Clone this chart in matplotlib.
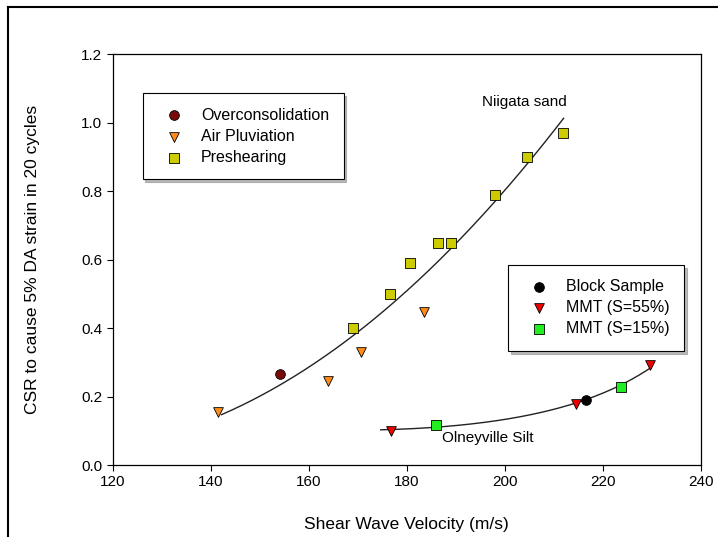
import numpy as np
import matplotlib
matplotlib.use("Agg")
import matplotlib.pyplot as plt
from matplotlib.lines import Line2D

plt.rcParams['font.family'] = ['Liberation Sans', 'DejaVu Sans']

# Niigata sand
oc_x = [154.1]
oc_y = [0.266]
ap_x = [141.4, 163.9, 170.6, 183.5]
ap_y = [0.155, 0.245, 0.33, 0.447]
ps_x = [169.0, 176.5, 180.6, 186.3, 189.1, 198.0, 204.5, 211.8]
ps_y = [0.40, 0.50, 0.59, 0.65, 0.65, 0.79, 0.90, 0.97]

# Olneyville silt
bs_x = [216.5]
bs_y = [0.19]
m55_x = [176.7, 214.5, 229.6]
m55_y = [0.10, 0.177, 0.292]
m15_x = [185.9, 223.7]
m15_y = [0.117, 0.228]

niigata_range = [142.2, 212.0]
silt_range = [174.7, 229.5]

fig = plt.figure(figsize=(7.18, 5.37), dpi=100)
ax = fig.add_axes([0.157, 0.134, 0.819, 0.765])

# trend curves fitted to the points
nx = np.concatenate([oc_x, ap_x, ps_x])
ny = np.concatenate([oc_y, ap_y, ps_y])
cn = np.polyfit(nx, ny, 2)
xx = np.linspace(niigata_range[0], niigata_range[1], 200)
ax.plot(xx, np.polyval(cn, xx), color='#222222', lw=1.0, zorder=2)

sx = np.concatenate([bs_x, m55_x, m15_x])
sy = np.concatenate([bs_y, m55_y, m15_y])
cs = np.polyfit(sx, np.log(sy), 2)
xx = np.linspace(silt_range[0], silt_range[1], 200)
ax.plot(xx, np.exp(np.polyval(cs, xx)), color='#222222', lw=1.0, zorder=2)

ms = 7
h1 = ax.scatter(oc_x, oc_y, marker='o', s=ms**2, c='#7a0a0a', edgecolors='black', lw=0.6, zorder=3, label='Overconsolidation')
h2 = ax.scatter(ap_x, ap_y, marker='v', s=ms**2, c='#ff8c1a', edgecolors='black', lw=0.6, zorder=3, label='Air Pluviation')
h3 = ax.scatter(ps_x, ps_y, marker='s', s=ms**2, c='#cccc00', edgecolors='black', lw=0.6, zorder=3, label='Preshearing')
h4 = ax.scatter(bs_x, bs_y, marker='o', s=ms**2, c='black', edgecolors='black', lw=0.6, zorder=3, label='Block Sample')
h5 = ax.scatter(m55_x, m55_y, marker='v', s=ms**2, c='#ee0000', edgecolors='black', lw=0.6, zorder=3, label='MMT (S=55%)')
h6 = ax.scatter(m15_x, m15_y, marker='s', s=ms**2, c='#22ee22', edgecolors='black', lw=0.6, zorder=3, label='MMT (S=15%)')

ax.text(204.0, 1.04, 'Niigata sand', fontsize=11, ha='center', va='bottom')
ax.text(196.5, 0.08, 'Olneyville Silt', fontsize=11, ha='center', va='center')

shadow = {'color': '0.55', 'alpha': 0.6}
leg_kw = dict(loc='upper left', fontsize=11.5, frameon=True, fancybox=False, shadow=shadow,
              borderpad=0.9, handletextpad=0.65, labelspacing=0.38, scatterpoints=1,
              borderaxespad=0, handlelength=2.1)
leg1 = ax.legend(handles=[h1, h2, h3], bbox_to_anchor=(0.051, 0.905), **leg_kw)
leg1.get_frame().set_edgecolor('black')
leg1.get_frame().set_linewidth(0.8)
ax.add_artist(leg1)
leg2 = ax.legend(handles=[h4, h5, h6], bbox_to_anchor=(0.672, 0.487), **leg_kw)
leg2.get_frame().set_edgecolor('black')
leg2.get_frame().set_linewidth(0.8)

ax.set_xlim(120, 240)
ax.set_ylim(0, 1.2)
ax.set_xticks(np.arange(120, 241, 20))
ax.set_yticks(np.arange(0, 1.21, 0.2))
ax.set_yticklabels([f'{v:.1f}' for v in np.arange(0, 1.21, 0.2)])
ax.tick_params(direction='out', length=4, labelsize=11, top=False, right=False)
ax.set_xlabel('Shear Wave Velocity (m/s)', fontsize=12.5, labelpad=20)
ax.set_ylabel('CSR to cause 5% DA strain in 20 cycles', fontsize=12.5, labelpad=30)
for s in ax.spines.values():
    s.set_linewidth(0.9)

# outer frame (left and top edges)
fig.add_artist(Line2D([8 / 718, 8 / 718], [0, 1 - 7 / 537], transform=fig.transFigure, color='black', lw=1.5))
fig.add_artist(Line2D([8 / 718, 1], [1 - 7 / 537, 1 - 7 / 537], transform=fig.transFigure, color='black', lw=1.5))

fig.savefig('out.png', dpi=100)
